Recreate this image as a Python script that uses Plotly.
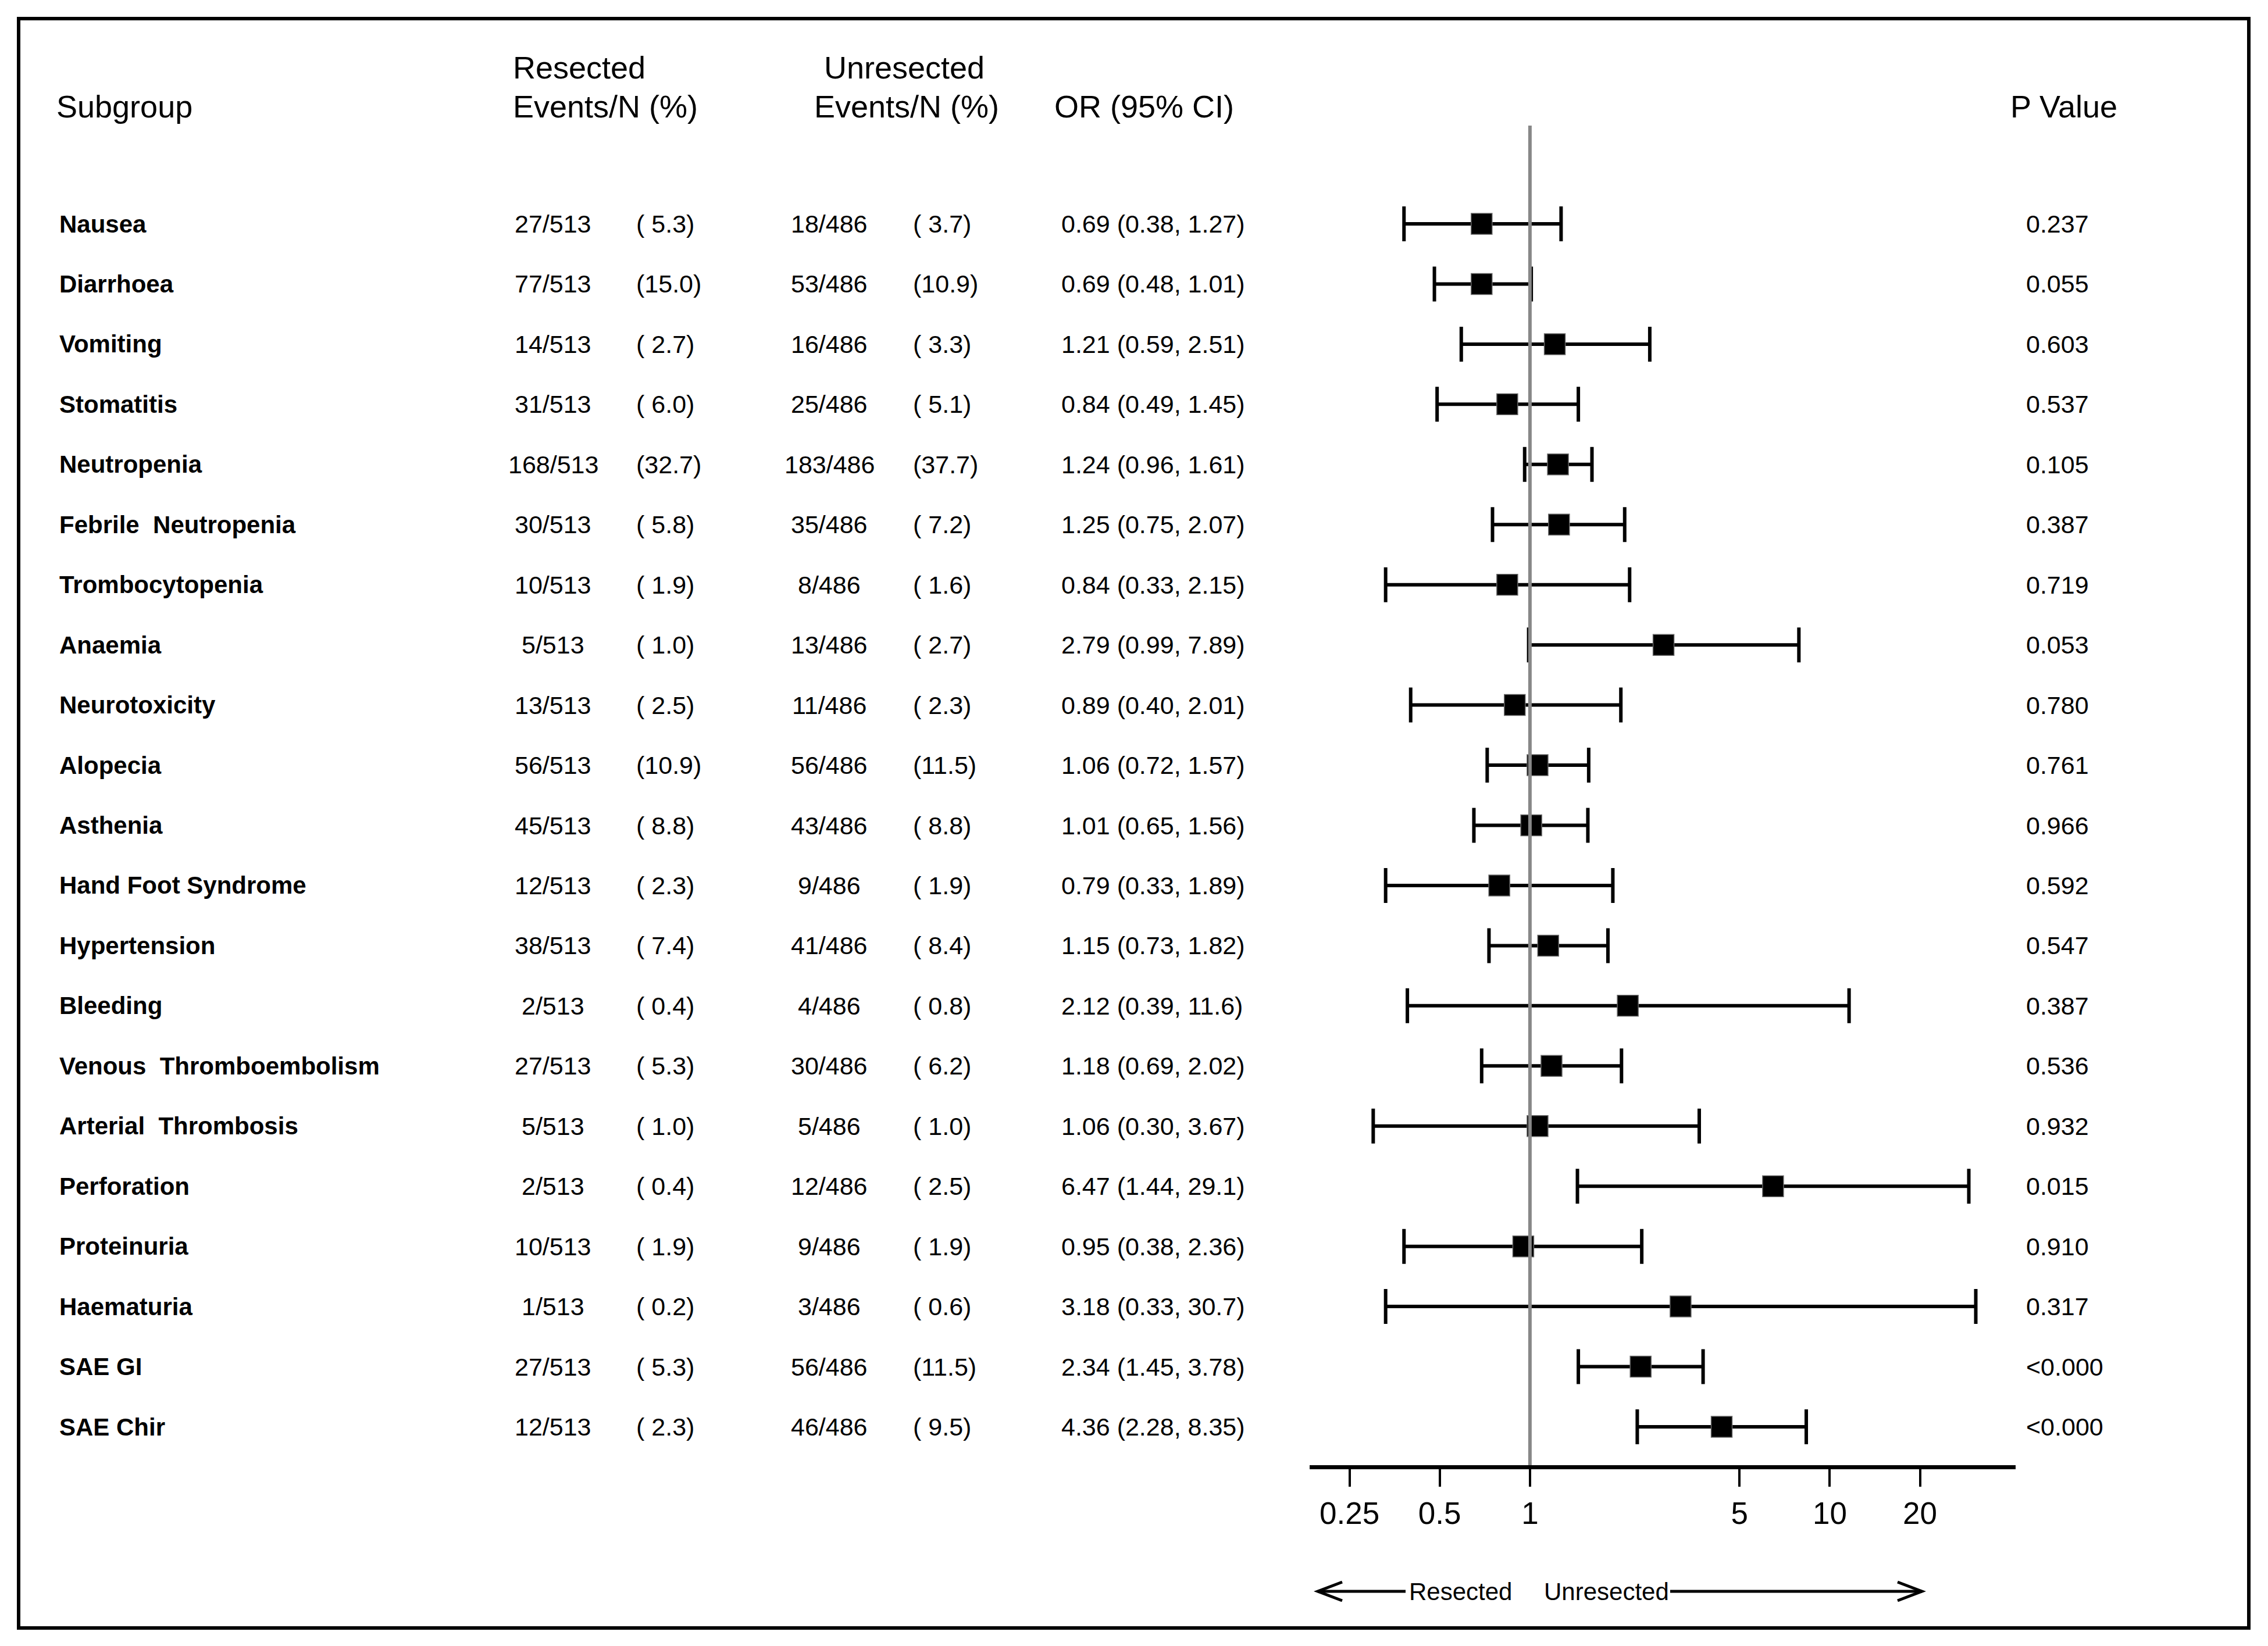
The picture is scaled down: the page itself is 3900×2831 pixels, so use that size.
import plotly.graph_objects as go

W, H = 3900, 2831

subgroups = ["Nausea", "Diarrhoea", "Vomiting", "Stomatitis", "Neutropenia",
             "Febrile  Neutropenia", "Trombocytopenia", "Anaemia", "Neurotoxicity",
             "Alopecia", "Asthenia", "Hand Foot Syndrome", "Hypertension", "Bleeding",
             "Venous  Thromboembolism", "Arterial  Thrombosis", "Perforation",
             "Proteinuria", "Haematuria", "SAE GI", "SAE Chir"]
res_events = [27, 77, 14, 31, 168, 30, 10, 5, 13, 56, 45, 12, 38, 2, 27, 5, 2, 10, 1, 27, 12]
res_n = 513
res_pct = [5.3, 15.0, 2.7, 6.0, 32.7, 5.8, 1.9, 1.0, 2.5, 10.9, 8.8, 2.3, 7.4, 0.4, 5.3, 1.0, 0.4, 1.9, 0.2, 5.3, 2.3]
unres_events = [18, 53, 16, 25, 183, 35, 8, 13, 11, 56, 43, 9, 41, 4, 30, 5, 12, 9, 3, 56, 46]
unres_n = 486
unres_pct = [3.7, 10.9, 3.3, 5.1, 37.7, 7.2, 1.6, 2.7, 2.3, 11.5, 8.8, 1.9, 8.4, 0.8, 6.2, 1.0, 2.5, 1.9, 0.6, 11.5, 9.5]
or_val = [0.69, 0.69, 1.21, 0.84, 1.24, 1.25, 0.84, 2.79, 0.89, 1.06, 1.01, 0.79, 1.15, 2.12, 1.18, 1.06, 6.47, 0.95, 3.18, 2.34, 4.36]
ci_lo = [0.38, 0.48, 0.59, 0.49, 0.96, 0.75, 0.33, 0.99, 0.40, 0.72, 0.65, 0.33, 0.73, 0.39, 0.69, 0.30, 1.44, 0.38, 0.33, 1.45, 2.28]
ci_hi = [1.27, 1.01, 2.51, 1.45, 1.61, 2.07, 2.15, 7.89, 2.01, 1.57, 1.56, 1.89, 1.82, 11.6, 2.02, 3.67, 29.1, 2.36, 30.7, 3.78, 8.35]
p_values = ["0.237", "0.055", "0.603", "0.537", "0.105", "0.387", "0.719", "0.053", "0.780",
            "0.761", "0.966", "0.592", "0.547", "0.387", "0.536", "0.932", "0.015", "0.910",
            "0.317", "<0.000", "<0.000"]
tick_vals = [0.25, 0.5, 1, 5, 10, 20]
tick_text = ["0.25", "0.5", "1", "5", "10", "20"]

FONT = "Liberation Sans, Arial, sans-serif"
rows = list(range(len(subgroups)))

# page offset of the plot div (default body margin)
OFF = 8

# layout geometry (screen pixels)
ROW0, ROWSTEP = 385.0, 103.45
AXIS_Y = 2520.0
vpp = 1.0 / ROWSTEP


def px(x):
    return (x - OFF) / W


def py(y):
    return 1 - (y - OFF) / H


y_top_val = -(ROW0 - OFF) * vpp
y_bot_val = (AXIS_Y - ROW0) * vpp


def fmt_or(v):
    return f"{v:.1f}" if v >= 10 else f"{v:.2f}"


fig = go.Figure()

fig.add_trace(go.Scatter(
    x=or_val, y=rows, mode="markers",
    marker=dict(symbol="square", size=36, color="black",
                line=dict(color="#666666", width=1.5)),
    error_x=dict(type="data", symmetric=False,
                 array=[h - o for h, o in zip(ci_hi, or_val)],
                 arrayminus=[o - l for o, l in zip(or_val, ci_lo)],
                 color="black", thickness=6, width=30),
    cliponaxis=False, showlegend=False, hoverinfo="skip"))

# reference line at OR = 1
fig.add_trace(go.Scatter(
    x=[1, 1], y=[(216 - ROW0) * vpp, y_bot_val], mode="lines",
    line=dict(color="#888888", width=6), cliponaxis=False,
    showlegend=False, hoverinfo="skip"))

ann = []


def txt(x, y, s, size, xanchor="left", yref="paper", bold=False):
    s = s.replace("  ", "\u00a0 ")
    if bold:
        s = f"<b>{s}</b>"
    ann.append(dict(x=px(x), y=y if yref == "y" else py(y), xref="paper", yref=yref,
                    text=s, showarrow=False, xanchor=xanchor, yanchor="middle",
                    font=dict(family=FONT, size=size, color="black")))


HS = 54
txt(95, 183, "Subgroup", HS)
txt(880, 116, "Resected", HS)
txt(880, 183, "Events/N (%)", HS)
txt(1415, 116, "Unresected", HS)
txt(1398, 183, "Events/N (%)", HS)
txt(1811, 183, "OR (95% CI)", HS)
txt(3455, 183, "P Value", HS)

DS = 43
for i in rows:
    txt(100, i, subgroups[i], 42, yref="y", bold=True)
    txt(951, i, f"{res_events[i]}/{res_n}", DS, xanchor="center", yref="y")
    txt(1092, i, f"({res_pct[i]:4.1f})".replace("( ", "(\u00a0"), DS, yref="y")
    txt(1426, i, f"{unres_events[i]}/{unres_n}", DS, xanchor="center", yref="y")
    txt(1568, i, f"({unres_pct[i]:4.1f})".replace("( ", "(\u00a0"), DS, yref="y")
    txt(1823, i, f"{fmt_or(or_val[i])} ({fmt_or(ci_lo[i])}, {fmt_or(ci_hi[i])})", DS, yref="y")
    txt(3482, i, p_values[i], DS, yref="y")

# direction labels
ARY = 2737
txt(2511, ARY, "Resected", 42, xanchor="center")
txt(2762, ARY, "Unresected", 42, xanchor="center")

shapes = []
LW = 5


def line(x0, y0, x1, y1, w=LW, color="black"):
    shapes.append(dict(type="line", xref="paper", yref="paper",
                       x0=px(x0), y0=py(y0), x1=px(x1), y1=py(y1),
                       line=dict(color=color, width=w)))


def chevron(tip, y, d):
    shapes.append(dict(type="path", xref="paper", yref="paper",
                       path=f"M {px(tip + d * 42)} {py(y - 16)} L {px(tip)} {py(y)} L {px(tip + d * 42)} {py(y + 16)}",
                       line=dict(color="black", width=LW)))


line(2266, ARY, 2417, ARY)
chevron(2266, ARY, 1)
line(2872, ARY, 3305, ARY)
chevron(3305, ARY, -1)

# outer frame
shapes.append(dict(type="rect", xref="paper", yref="paper",
                   x0=px(32), y0=py(32), x1=px(3867), y1=py(2800),
                   line=dict(color="black", width=6), fillcolor="rgba(0,0,0,0)"))

fig.update_layout(
    width=W, height=H,
    margin=dict(l=0, r=0, t=0, b=0),
    paper_bgcolor="white", plot_bgcolor="white",
    annotations=ann, shapes=shapes,
    xaxis=dict(type="log", domain=[px(2252), px(3466)], range=[-0.735, 1.620],
               tickvals=tick_vals, ticktext=tick_text, ticks="outside",
               ticklen=30, tickwidth=4, tickcolor="black",
               showline=True, linecolor="black", linewidth=7,
               showgrid=False, zeroline=False,
               tickfont=dict(family=FONT, size=53, color="black")),
    yaxis=dict(domain=[py(AXIS_Y), 1], range=[y_bot_val, y_top_val],
               visible=False, showgrid=False, zeroline=False),
)

fig.write_html("out.html")
